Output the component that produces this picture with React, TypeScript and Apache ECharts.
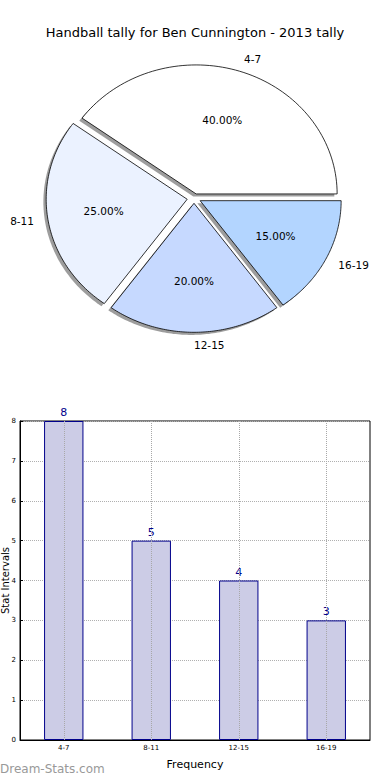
import React, { useEffect, useRef } from "react";
import * as echarts from "echarts";

const titleText = "Handball tally for Ben Cunnington - 2013 tally";
const categories = ["4-7", "8-11", "12-15", "16-19"];
const counts = [8, 5, 4, 3];
const sliceColors = ["#FFFFFF", "#EBF2FF", "#C6D9FF", "#B3D5FF"];
const yAxisName = "Stat Intervals";
const xAxisName = "Frequency";
const watermark = "Dream-Stats.com";

const FONT = "DejaVu Sans";

export default function App() {
  const ref = useRef<HTMLDivElement>(null);

  useEffect(() => {
    document.body.style.margin = "0";
    if (!ref.current) return;
    const chart = echarts.init(ref.current, null, { renderer: "svg" });

    const total = counts.reduce((a, b) => a + b, 0);
    const starts: number[] = [];
    let acc = 0;
    counts.forEach((v) => {
      starts.push(acc);
      acc += v;
    });

    // pie geometry (ellipse)
    const cx = 194;
    const cy = 198.5;
    const rx = 141;
    const ry = 129;
    const exX = 6.9;
    const exY = 4.8;
    const shX = -2.8;
    const shY = 2.6;

    const renderSlice = (params: any, api: any) => {
      const i = params.dataIndex;
      const v = api.value(1);
      const a0 = (starts[i] / total) * Math.PI * 2;
      const a1 = ((starts[i] + v) / total) * Math.PI * 2;
      const am = (a0 + a1) / 2;
      const ox = cx + exX * Math.cos(am);
      const oy = cy - exY * Math.sin(am);
      const pts: number[][] = [[ox, oy]];
      const n = 80;
      for (let k = 0; k <= n; k++) {
        const a = a0 + ((a1 - a0) * k) / n;
        pts.push([ox + rx * Math.cos(a), oy - ry * Math.sin(a)]);
      }
      const shadowPts = pts.map((p) => [p[0] + shX, p[1] + shY]);
      const pct = ((v / total) * 100).toFixed(2) + "%";
      const cosm = Math.cos(am);
      const lx = ox + 1.1 * rx * cosm;
      const ly = oy - 1.1 * ry * Math.sin(am);
      const px = ox + 0.6 * rx * cosm;
      const py = oy - 0.6 * ry * Math.sin(am);
      return {
        type: "group",
        children: [
          {
            type: "polygon",
            shape: { points: shadowPts },
            style: { fill: "rgba(60,60,60,0.5)" },
            z2: 0,
          },
          {
            type: "polygon",
            shape: { points: pts },
            style: {
              fill: sliceColors[i],
              stroke: "#000",
              lineWidth: 0.8,
              lineJoin: "miter",
            },
            z2: 10,
          },
          {
            type: "text",
            style: {
              text: pct,
              x: px,
              y: py,
              align: "center",
              verticalAlign: "middle",
              fill: "#000",
              fontSize: 10.5,
              fontFamily: FONT,
            },
            z2: 20,
          },
          {
            type: "text",
            style: {
              text: categories[i],
              x: lx,
              y: ly,
              align: cosm < -0.01 ? "right" : "left",
              verticalAlign: "middle",
              fill: "#000",
              fontSize: 10.5,
              fontFamily: FONT,
            },
            z2: 20,
          },
        ],
      };
    };

    chart.setOption({
      animation: false,
      backgroundColor: "#fff",
      title: {
        text: titleText,
        left: "center",
        top: 21,
        textStyle: {
          fontSize: 13,
          fontWeight: "normal",
          color: "#000",
          fontFamily: FONT,
        },
      },
      graphic: [
        {
          type: "text",
          left: 0,
          top: 763,
          style: {
            text: watermark,
            fill: "#999999",
            fontSize: 12,
            fontWeight: "normal",
            fontFamily: FONT,
          },
        },
      ],
      grid: {
        left: 20,
        right: 20,
        top: 421,
        bottom: 40,
        outerBoundsMode: "none",
        containLabel: false,
        show: true,
        borderColor: "#000",
        borderWidth: 1,
        backgroundColor: "transparent",
      },
      xAxis: {
        type: "category",
        data: categories,
        name: xAxisName,
        nameLocation: "middle",
        nameGap: 19,
        nameMoveOverlap: false,
        nameTextStyle: { fontSize: 11, color: "#000", fontFamily: FONT },
        axisLine: { lineStyle: { color: "#000", width: 1 } },
        axisTick: { show: false },
        axisLabel: { fontSize: 7, color: "#000", margin: 4, fontFamily: FONT },
        splitLine: { show: false },
      },
      yAxis: {
        type: "value",
        min: 0,
        max: 8,
        interval: 1,
        name: yAxisName,
        nameLocation: "middle",
        nameGap: 9.5,
        nameRotate: 90,
        nameMoveOverlap: false,
        nameTextStyle: { fontSize: 10, color: "#000", fontFamily: FONT },
        axisLine: { show: true, lineStyle: { color: "#000", width: 1 } },
        axisTick: { show: true, inside: true, length: 3, lineStyle: { color: "#000" } },
        axisLabel: { fontSize: 7, color: "#000", margin: 4, fontFamily: FONT },
        splitLine: {
          show: true,
          lineStyle: { type: "dotted", color: "#b0b0b0", width: 1 },
        },
      },
      series: [
        {
          type: "custom",
          coordinateSystem: "none",
          renderItem: renderSlice,
          data: counts.map((v, i) => [i, v]),
          silent: true,
        },
        {
          type: "bar",
          data: counts,
          barWidth: "45%",
          itemStyle: {
            color: "#CCCCE6",
            borderColor: "#00008B",
            borderWidth: 1,
          },
          label: {
            show: true,
            position: "top",
            distance: 3,
            color: "#00008B",
            fontSize: 11,
            fontFamily: FONT,
          },
          markLine: {
            silent: true,
            symbol: ["none", "none"],
            label: { show: false },
            lineStyle: { type: "dotted", color: "#a8a8a8", width: 1 },
            data: categories.map((c) => ({ xAxis: c })),
          },
        },
      ],
    });

    return () => chart.dispose();
  }, []);

  return <div ref={ref} style={{ width: 390, height: 780 }} />;
}
